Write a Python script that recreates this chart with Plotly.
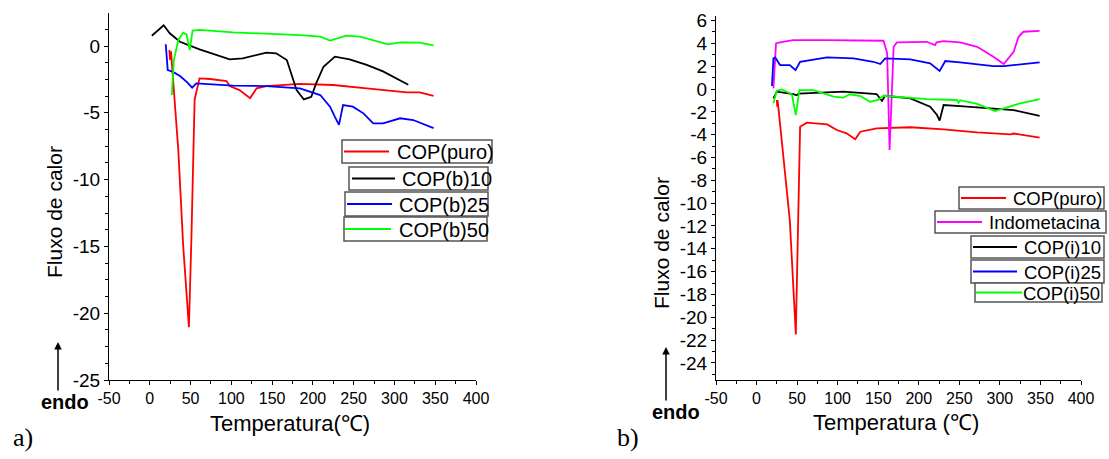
import plotly.graph_objects as go

# painel a) - COP com b
a_T_puro = [24, 25, 26, 35, 41, 48, 51, 55, 61, 74, 94, 98, 110, 123, 131, 143, 184, 225, 266, 315, 331, 348]
a_puro = [-0.3, -1.05, -0.4, -7.8, -15.0, -21.05, -14.5, -4.0, -2.42, -2.47, -2.62, -3.0, -3.3, -3.9, -3.17, -3.0,
          -2.84, -2.92, -3.17, -3.47, -3.47, -3.74]

a_T_b10 = [2.5, 17, 24.5, 37, 61, 98, 114, 143, 155, 168, 176, 180, 189, 198, 204, 213, 227, 245, 266, 286, 317]
a_b10 = [0.77, 1.55, 0.95, 0.32, -0.25, -1.0, -0.92, -0.5, -0.55, -1.05, -2.55, -3.3, -4.0, -3.8, -2.8, -1.55,
         -0.8, -1.0, -1.42, -1.9, -2.9]

a_T_b25 = [19.6, 22, 28, 37, 45, 52, 57, 102, 143, 184, 209, 221, 227, 232, 237, 249, 262, 274, 286, 307, 323, 348]
a_b25 = [0.13, -1.8, -1.92, -2.25, -2.67, -3.12, -2.8, -2.97, -3.0, -3.17, -3.67, -4.54, -5.3, -5.9, -4.42, -4.54,
         -5.04, -5.79, -5.79, -5.41, -5.54, -6.15]

a_T_b50 = [27, 29.5, 35, 41, 45, 49, 52.5, 61, 102, 184, 209, 221, 241, 258, 292, 307, 331, 348]
a_b50 = [-3.67, -1.05, 0.45, 1.0, 0.87, -0.3, 1.15, 1.2, 1.02, 0.82, 0.7, 0.4, 0.77, 0.7, 0.12, 0.27, 0.25, 0.05]

# painel b) - COP com indometacina
b_T_puro = [25, 25.5, 26, 41, 48.4, 51, 53.7, 62, 87, 99, 111, 121.6, 128, 148, 189.5, 230.6, 272, 313, 317, 349]
b_puro = [-0.96, -1.55, -1.0, -11.5, -21.5, -11.5, -3.3, -2.95, -3.1, -3.59, -3.88, -4.4, -3.74, -3.44, -3.35,
          -3.53, -3.8, -3.97, -3.9, -4.26]

b_T_indo = [20.8, 24, 29, 45, 87, 156.5, 161, 164, 169, 173, 210, 220, 222, 230.6, 251, 272, 292, 304.7, 317, 323,
            329, 349]
b_indo = [0.06, 4.0, 4.09, 4.29, 4.29, 4.23, 3.15, -5.34, 3.7, 4.09, 4.14, 3.85, 4.1, 4.2, 4.09, 3.7, 2.83, 2.19,
          3.27, 4.58, 5.02, 5.1]

b_T_i10 = [20.8, 25, 45.4, 49.6, 52, 87, 107, 148, 154.6, 158.6, 189.5, 214, 222.5, 225.7, 230.6, 251, 292, 317, 349]
b_i10 = [-0.82, -0.23, -0.44, -0.55, -0.4, -0.29, -0.23, -0.44, -1.05, -0.59, -0.82, -1.55, -2.28, -2.77, -1.4,
         -1.49, -1.69, -1.84, -2.36]

b_T_i25 = [19, 20.8, 23, 29, 41, 48, 53.7, 87, 119.5, 144, 152.5, 158.6, 189.5, 214, 225.7, 232.7, 251, 292, 304.7,
           325, 349]
b_i25 = [0.26, 2.69, 2.77, 2.1, 2.1, 1.66, 2.39, 2.77, 2.69, 2.39, 2.19, 2.69, 2.6, 2.25, 1.58, 2.45, 2.34, 2.01,
         2.01, 2.19, 2.34]

b_T_i50 = [20.8, 25, 31, 43.5, 48.4, 52.8, 70, 95, 107, 115, 128, 140, 150, 156.5, 210, 247, 249, 251, 272, 294, 309,
           325, 349]
b_i50 = [-1.25, -0.15, -0.03, -0.46, -2.28, -0.09, -0.09, -0.67, -0.76, -0.46, -0.61, -1.11, -0.96, -0.59, -0.88,
         -0.96, -1.2, -0.98, -1.31, -1.93, -1.6, -1.25, -0.88]

# ticks
x_ticks = [-50, 0, 50, 100, 150, 200, 250, 300, 350, 400]
a_y_ticks = [0, -5, -10, -15, -20, -25]
b_y_ticks = [6, 4, 2, 0, -2, -4, -6, -8, -10, -12, -14, -16, -18, -20, -22, -24]

W, H = 1109, 459
FONT = "Liberation Sans, Arial, sans-serif"
SERIF = "Liberation Serif, Times New Roman, serif"


def px(x):
    return x / W


def py(y):
    return 1 - y / H


fig = go.Figure()

# nome, dados, cor, eixos, caixa da legenda (x0, x1, y0, y1), amostra (x0, x1), inicio do texto, fonte
series = [
    ("COP(puro)", a_T_puro, a_puro, "#ff0000", "x", "y", (342, 492, 140, 163), (344, 389), 395, 20),
    ("COP(b)10", a_T_b10, a_b10, "#000000", "x", "y", (349, 488, 167, 190), (352, 395), 400, 20),
    ("COP(b)25", a_T_b25, a_b25, "#0000ff", "x", "y", (345, 488, 192, 216), (347, 392), 397, 20),
    ("COP(b)50", a_T_b50, a_b50, "#00ff00", "x", "y", (344, 487, 217, 241), (345, 391), 397, 20),
    ("COP(puro)", b_T_puro, b_puro, "#ff0000", "x2", "y2", (959, 1104, 187, 209), (961, 1006), 1011, 18.5),
    ("Indometacina", b_T_indo, b_indo, "#ff00ff", "x2", "y2", (935, 1106, 211, 233), (937, 982), 987, 18.5),
    ("COP(i)10", b_T_i10, b_i10, "#000000", "x2", "y2", (971, 1104, 236, 258), (973, 1017), 1022, 18.5),
    ("COP(i)25", b_T_i25, b_i25, "#0000ff", "x2", "y2", (971, 1104, 260, 283), (973, 1017), 1022, 18.5),
    ("COP(i)50", b_T_i50, b_i50, "#00ff00", "x2", "y2", (975, 1102, 283, 302), (976, 1022), 1021, 18.5),
]

for name, xs, ys, col, xa, ya, box, samp, tx, fs in series:
    fig.add_trace(go.Scatter(x=xs, y=ys, mode="lines", name=name, line=dict(color=col, width=1.8),
                             xaxis=xa, yaxis=ya, showlegend=False))
    bx0, bx1, by0, by1 = box
    cy = (by0 + by1) / 2
    fig.add_shape(type="rect", xref="paper", yref="paper", x0=px(bx0), x1=px(bx1), y0=py(by1), y1=py(by0),
                  fillcolor="white", line=dict(color="#555555", width=1.5), layer="above")
    fig.add_shape(type="line", xref="paper", yref="paper", x0=px(samp[0]), x1=px(samp[1]), y0=py(cy), y1=py(cy),
                  line=dict(color=col, width=1.8), layer="above")
    fig.add_annotation(text=name, x=px(tx), y=py(cy + 0.5), xref="paper", yref="paper", showarrow=False,
                       xanchor="left", yanchor="middle", font=dict(family=FONT, size=fs, color="black"))

ax = dict(showline=True, linecolor="black", linewidth=1.2, ticks="outside", ticklen=4, tickcolor="black",
          showgrid=False, zeroline=False, automargin=False, mirror=False, tickmode="array")

fig.update_layout(
    width=W, height=H, autosize=False, margin=dict(l=0, r=0, t=0, b=0),
    paper_bgcolor="white", plot_bgcolor="white", showlegend=False,
    xaxis=dict(ax, domain=[px(109), px(476)], range=[-50, 400], anchor="y",
               tickvals=x_ticks, ticktext=[str(v) for v in x_ticks],
               tickfont=dict(family=FONT, size=16, color="black"),
               minor=dict(ticks="outside", ticklen=3, dtick=25, tick0=-50, tickcolor="black")),
    yaxis=dict(ax, domain=[py(380), py(13)], range=[-25, 2.47], anchor="x",
               tickvals=a_y_ticks, ticktext=[str(v) for v in a_y_ticks],
               tickfont=dict(family=FONT, size=19, color="black"),
               minor=dict(ticks="outside", ticklen=3, dtick=1.25, tick0=0, tickcolor="black")),
    xaxis2=dict(ax, domain=[px(716), px(1081)], range=[-50, 400], anchor="y2",
                tickvals=x_ticks, ticktext=[str(v) for v in x_ticks],
                tickfont=dict(family=FONT, size=16, color="black"),
                minor=dict(ticks="outside", ticklen=3, dtick=25, tick0=-50, tickcolor="black")),
    yaxis2=dict(ax, domain=[py(380), py(16)], range=[-25.5, 6.4], anchor="x2",
                tickvals=b_y_ticks, ticktext=[str(v) for v in b_y_ticks],
                tickfont=dict(family=FONT, size=19, color="black"),
                minor=dict(ticks="outside", ticklen=3, dtick=1, tick0=0, tickcolor="black")),
)

notes = [
    ("Temperatura(℃)", 290, 423, 22, 0, FONT),
    ("Temperatura (℃)", 896, 422, 22, 0, FONT),
    ("Fluxo de calor", 54, 212, 21, -90, FONT),
    ("Fluxo de calor", 661, 243, 21, -90, FONT),
    ("<b>endo</b>", 65, 402, 20, 0, FONT),
    ("<b>endo</b>", 676, 412, 20, 0, FONT),
    ("a)", 23, 437, 26, 0, SERIF),
    ("b)", 628, 437, 26, 0, SERIF),
]
for txt, x, y, size, ang, fam in notes:
    fig.add_annotation(text=txt, x=px(x), y=py(y), xref="paper", yref="paper", showarrow=False,
                       xanchor="center", yanchor="middle", textangle=ang,
                       font=dict(family=fam, size=size, color="black"))

# setas "endo"
for x0, y0, y1 in [(58, 392, 342), (666, 402, 347)]:
    fig.add_annotation(x=px(x0), y=py(y1), xref="paper", yref="paper", ax=0, ay=y0 - y1,
                       showarrow=True, arrowhead=2, arrowsize=1, standoff=0,
                       arrowwidth=1.5, arrowcolor="black", text="")

# sem a margem padrao do <body>, para a figura ficar em (0, 0)
fig.write_html("out.html", config={"displayModeBar": False},
               post_script="document.body.style.margin='0px';")
